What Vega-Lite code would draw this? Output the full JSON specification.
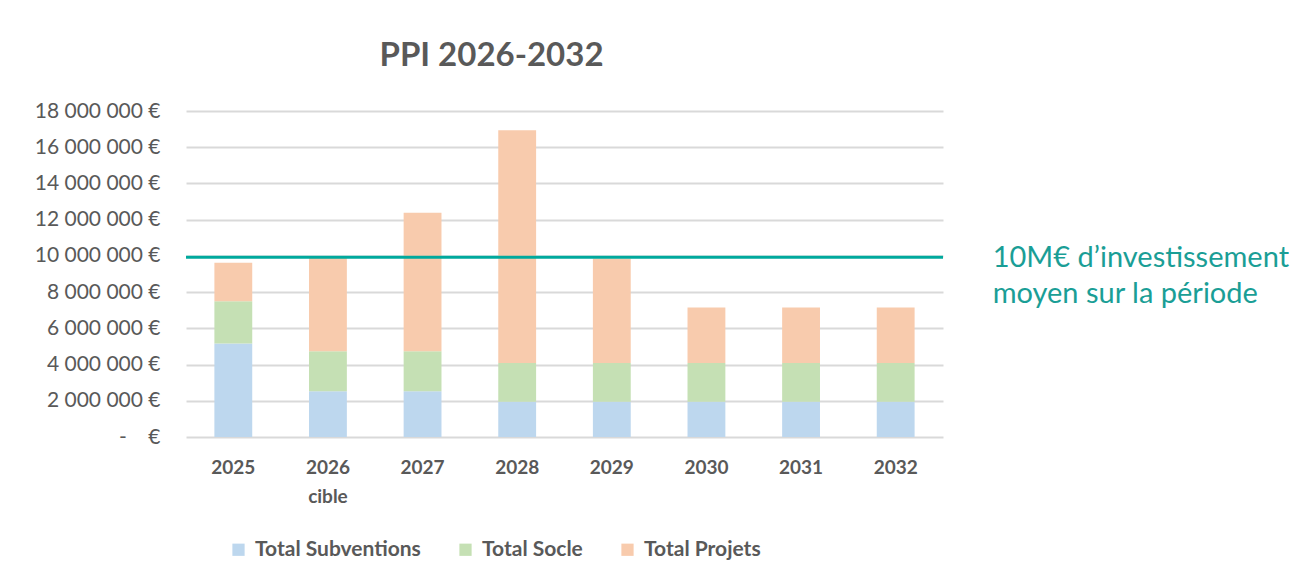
{
  "$schema": "https://vega.github.io/schema/vega-lite/v6.json",
  "autosize": "none",
  "width": 757,
  "height": 326,
  "padding": {"left": 186, "top": 111, "right": 366, "bottom": 147},
  "background": "white",
  "config": {
    "font": "Lato",
    "view": {"stroke": null}
  },
  "title": {
    "text": "PPI 2026-2032",
    "font": "Lato",
    "fontSize": 33,
    "fontWeight": "bold",
    "color": "#595959",
    "anchor": "middle",
    "dx": -73,
    "offset": 1,
    "baseline": "alphabetic"
  },
  "datasets": {
    "bars": [
      {"year": "2025", "serie": "Total Subventions", "value": 5160000},
      {"year": "2025", "serie": "Total Socle", "value": 2340000},
      {"year": "2025", "serie": "Total Projets", "value": 2120000},
      {"year": "2026", "serie": "Total Subventions", "value": 2530000},
      {"year": "2026", "serie": "Total Socle", "value": 2210000},
      {"year": "2026", "serie": "Total Projets", "value": 5160000},
      {"year": "2027", "serie": "Total Subventions", "value": 2530000},
      {"year": "2027", "serie": "Total Socle", "value": 2210000},
      {"year": "2027", "serie": "Total Projets", "value": 7640000},
      {"year": "2028", "serie": "Total Subventions", "value": 1940000},
      {"year": "2028", "serie": "Total Socle", "value": 2150000},
      {"year": "2028", "serie": "Total Projets", "value": 12850000},
      {"year": "2029", "serie": "Total Subventions", "value": 1940000},
      {"year": "2029", "serie": "Total Socle", "value": 2150000},
      {"year": "2029", "serie": "Total Projets", "value": 5770000},
      {"year": "2030", "serie": "Total Subventions", "value": 1940000},
      {"year": "2030", "serie": "Total Socle", "value": 2150000},
      {"year": "2030", "serie": "Total Projets", "value": 3060000},
      {"year": "2031", "serie": "Total Subventions", "value": 1940000},
      {"year": "2031", "serie": "Total Socle", "value": 2150000},
      {"year": "2031", "serie": "Total Projets", "value": 3060000},
      {"year": "2032", "serie": "Total Subventions", "value": 1940000},
      {"year": "2032", "serie": "Total Socle", "value": 2150000},
      {"year": "2032", "serie": "Total Projets", "value": 3060000}
    ],
    "moyenne": [
      {"value": 9920000, "year": "2032", "label": ["10M€ d’investissement", "moyen sur la période"]}
    ]
  },
  "encoding": {
    "x": {
      "field": "year",
      "type": "nominal",
      "sort": null,
      "scale": {"domain": ["2025", "2026", "2027", "2028", "2029", "2030", "2031", "2032"], "paddingInner": 0.6, "paddingOuter": 0.3},
      "axis": {
        "title": null,
        "labelAngle": 0,
        "labelFont": "Lato",
        "labelFontSize": 19,
        "labelFontWeight": "bold",
        "labelColor": "#595959",
        "labelPadding": 30,
        "labelLineHeight": 29,
        "labelBaseline": "middle",
        "labelOverlap": false,
        "labelExpr": "datum.value == '2026' ? ['2026', 'cible'] : datum.value",
        "ticks": false,
        "domain": false
      }
    },
    "y": {
      "field": "value",
      "type": "quantitative",
      "scale": {"domain": [0, 18000000], "nice": false},
      "axis": {
        "title": null,
        "values": [0, 2000000, 4000000, 6000000, 8000000, 10000000, 12000000, 14000000, 16000000, 18000000],
        "labelExpr": "datum.value == 0 ? '-\u00a0\u00a0\u00a0\u00a0€' : replace(format(datum.value, ',d'), /,/g, '\u00a0') + '\u00a0€'",
        "labelFont": "Lato",
        "labelFontSize": 21,
        "labelColor": "#595959",
        "labelPadding": 26,
        "labelOverlap": false,
        "labelBound": false,
        "ticks": false,
        "domain": false,
        "gridColor": "#d9d9d9",
        "gridWidth": 2
      }
    }
  },
  "layer": [
    {
      "data": {"name": "bars"},
      "mark": {"type": "bar"},
      "encoding": {
        "y": {"field": "value", "type": "quantitative", "stack": "zero"},
        "color": {
          "field": "serie",
          "type": "nominal",
          "sort": ["Total Subventions", "Total Socle", "Total Projets"],
          "scale": {
            "domain": ["Total Subventions", "Total Socle", "Total Projets"],
            "range": ["#BDD7EE", "#C5E0B4", "#F8CBAD"]
          },
          "legend": {
            "title": null,
            "orient": "none",
            "direction": "horizontal",
            "legendX": 42,
            "legendY": 428,
            "symbolType": "square",
            "symbolSize": 150,
            "symbolStrokeWidth": 0,
            "labelFont": "Lato",
            "labelFontSize": 21,
            "labelFontWeight": "bold",
            "labelColor": "#595959",
            "labelOffset": 6,
            "labelLimit": 400,
            "columnPadding": 34
          }
        },
        "order": {"field": "serie", "sort": "descending"}
      }
    },
    {
      "data": {"name": "moyenne"},
      "mark": {"type": "rule", "color": "#00A99D", "strokeWidth": 3},
      "encoding": {
        "x": null
      }
    },
    {
      "data": {"name": "moyenne"},
      "mark": {
        "type": "text",
        "align": "left",
        "baseline": "alphabetic",
        "font": "Lato",
        "fontSize": 29,
        "lineHeight": 36,
        "color": "#1A9E96",
        "dx": 97,
        "dy": 10
      },
      "encoding": {
        "text": {"field": "label"}
      }
    }
  ]
}
